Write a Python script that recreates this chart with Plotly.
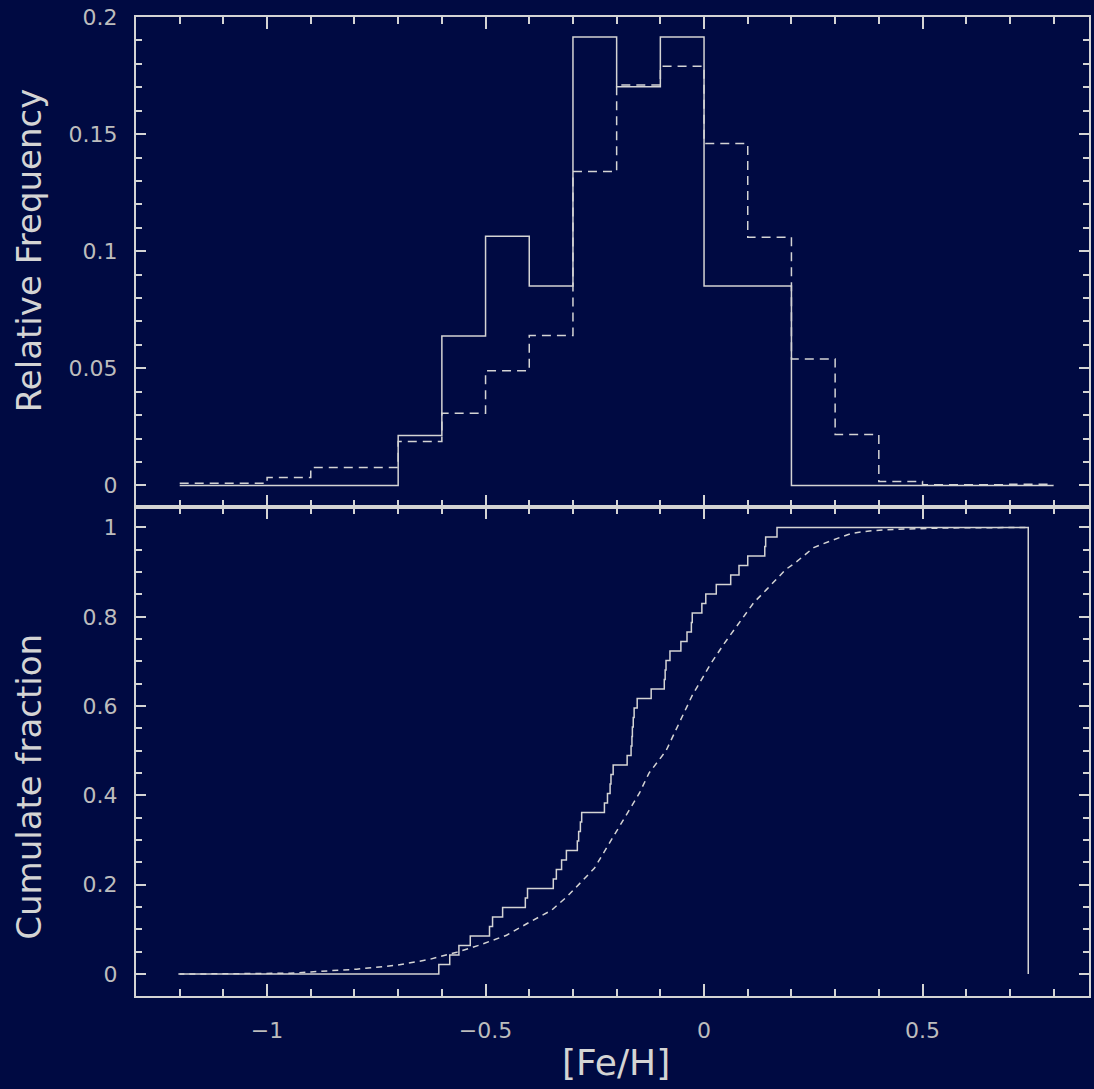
import plotly.graph_objects as go
from plotly.subplots import make_subplots

# ---------------- data ----------------
# Histogram bins ([Fe/H] left edges, width 0.1)
bin_left = [-1.2, -1.1, -1.0, -0.9, -0.8, -0.7, -0.6, -0.5, -0.4, -0.3,
            -0.2, -0.1, 0.0, 0.1, 0.2, 0.3, 0.4, 0.5, 0.6, 0.7]
bin_width = 0.1
freq_solid = [0, 0, 0, 0, 0, 0.0213, 0.0638, 0.1064, 0.0851, 0.1915,
              0.1702, 0.1915, 0.0851, 0.0851, 0, 0, 0, 0, 0, 0]
freq_dashed = [0.0009, 0.0009, 0.0034, 0.0077, 0.0077, 0.0188, 0.0308, 0.049, 0.064, 0.134,
               0.171, 0.179, 0.146, 0.106, 0.054, 0.0217, 0.0017, 0.0003, 0.0003, 0.0005]

# Cumulative fraction, solid sample (47 stars): sorted [Fe/H] values
cum_solid_x = [-0.607, -0.582, -0.561, -0.535, -0.491, -0.484, -0.461, -0.409, -0.404, -0.345,
               -0.338, -0.326, -0.315, -0.290, -0.287, -0.283, -0.280, -0.228, -0.221, -0.215,
               -0.213, -0.208, -0.176, -0.167, -0.165, -0.164, -0.162, -0.160, -0.153, -0.121,
               -0.091, -0.089, -0.087, -0.078, -0.053, -0.039, -0.029, -0.027, -0.005, 0.004,
               0.028, 0.061, 0.080, 0.100, 0.139, 0.141, 0.167]
cum_start = -1.2
cum_end = 0.742

# Cumulative fraction, comparison sample (dashed)
cum_dashed_x = [-1.203, -0.947, -0.90, -0.795, -0.703, -0.628, -0.582, -0.566, -0.514, -0.452,
                -0.40, -0.349, -0.313, -0.251, -0.21, -0.176, -0.148, -0.126, -0.087, -0.027,
                0.016, 0.046, 0.08, 0.114, 0.144, 0.167, 0.187, 0.21, 0.251, 0.292,
                0.338, 0.384, 0.445, 0.55, 0.742]
cum_dashed_y = [0.0, 0.002, 0.005, 0.011, 0.02, 0.033, 0.045, 0.049, 0.065, 0.087,
                0.116, 0.143, 0.174, 0.237, 0.304, 0.36, 0.405, 0.45, 0.50, 0.624,
                0.696, 0.74, 0.787, 0.832, 0.862, 0.886, 0.906, 0.922, 0.955, 0.971,
                0.987, 0.993, 0.996, 0.999, 1.0]

top_ticks = [0, 0.05, 0.1, 0.15, 0.2]
bot_ticks = [0, 0.2, 0.4, 0.6, 0.8, 1]
x_ticks = [-1, -0.5, 0, 0.5]

# ---------------- styling ----------------
BG = "#000a42"
FG = "#d4d4d4"
LBL = "#bdbdbd"
FONT = "DejaVu Sans, Liberation Sans, Arial, sans-serif"

fig = make_subplots(rows=2, cols=1, shared_xaxes=True, vertical_spacing=0)

# histogram step lines
hx = bin_left + [bin_left[-1] + bin_width]
fig.add_trace(go.Scatter(x=hx, y=freq_solid + [freq_solid[-1]], mode="lines",
                         line=dict(color=FG, width=1.5, shape="hv"), showlegend=False),
              row=1, col=1)
fig.add_trace(go.Scatter(x=hx, y=freq_dashed + [freq_dashed[-1]], mode="lines",
                         line=dict(color=FG, width=1.5, shape="hv", dash="9px,6px"),
                         showlegend=False), row=1, col=1)

# cumulative
n = len(cum_solid_x)
cx = [cum_start] + cum_solid_x + [cum_end, cum_end]
cy = [0] + [(i + 1) / n for i in range(n)] + [1, 0]
fig.add_trace(go.Scatter(x=cx, y=cy, mode="lines",
                         line=dict(color=FG, width=1.5, shape="hv"), showlegend=False),
              row=2, col=1)
fig.add_trace(go.Scatter(x=cum_dashed_x, y=cum_dashed_y, mode="lines",
                         line=dict(color=FG, width=1.5, dash="6px,5px"), showlegend=False),
              row=2, col=1)

axis_common = dict(showline=True, linecolor=FG, linewidth=2, mirror="ticks",
                   ticks="inside", tickcolor=FG, tickwidth=1.5, showgrid=False,
                   zeroline=False,
                   tickfont=dict(family=FONT, size=22, color=LBL))

xr = [-1.3, 0.881]
fig.update_xaxes(**axis_common, range=xr, tickvals=x_ticks, ticklen=12,
                 minor=dict(dtick=0.1, tick0=0, ticklen=7, ticks="inside", tickcolor=FG))
fig.update_xaxes(showticklabels=False, row=1, col=1)
fig.update_xaxes(ticklabelstandoff=14, row=2, col=1)

fig.update_yaxes(**axis_common, ticklen=10, ticklabelstandoff=12)
fig.update_yaxes(range=[-0.009, 0.2], tickvals=top_ticks,
                 minor=dict(dtick=0.01, tick0=0, ticklen=6, ticks="inside", tickcolor=FG),
                 row=1, col=1)
fig.update_yaxes(range=[-0.049, 1.047], tickvals=bot_ticks,
                 minor=dict(dtick=0.05, tick0=0, ticklen=6, ticks="inside", tickcolor=FG),
                 row=2, col=1)

title_font = dict(family=FONT, size=34, color=FG)
fig.add_annotation(text="Relative Frequency", xref="paper", yref="paper",
                   x=-0.112, y=0.762, textangle=-90, showarrow=False,
                   xanchor="center", yanchor="middle", font=title_font)
fig.add_annotation(text="Cumulate fraction", xref="paper", yref="paper",
                   x=-0.112, y=0.214, textangle=-90, showarrow=False,
                   xanchor="center", yanchor="middle", font=title_font)
fig.add_annotation(text="[Fe/H]", xref="paper", yref="paper",
                   x=0.504, y=-0.068, showarrow=False,
                   xanchor="center", yanchor="middle",
                   font=dict(family=FONT, size=36, color=FG))

fig.update_layout(width=1094, height=1089, paper_bgcolor=BG, plot_bgcolor=BG,
                  margin=dict(l=136, r=3, t=17, b=93), showlegend=False)

fig.write_html("out.html", config={"displayModeBar": False},
               post_script="document.body.style.margin='0';"
                           "document.body.style.background='#000a42';"
                           "document.body.style.overflow='hidden';")
